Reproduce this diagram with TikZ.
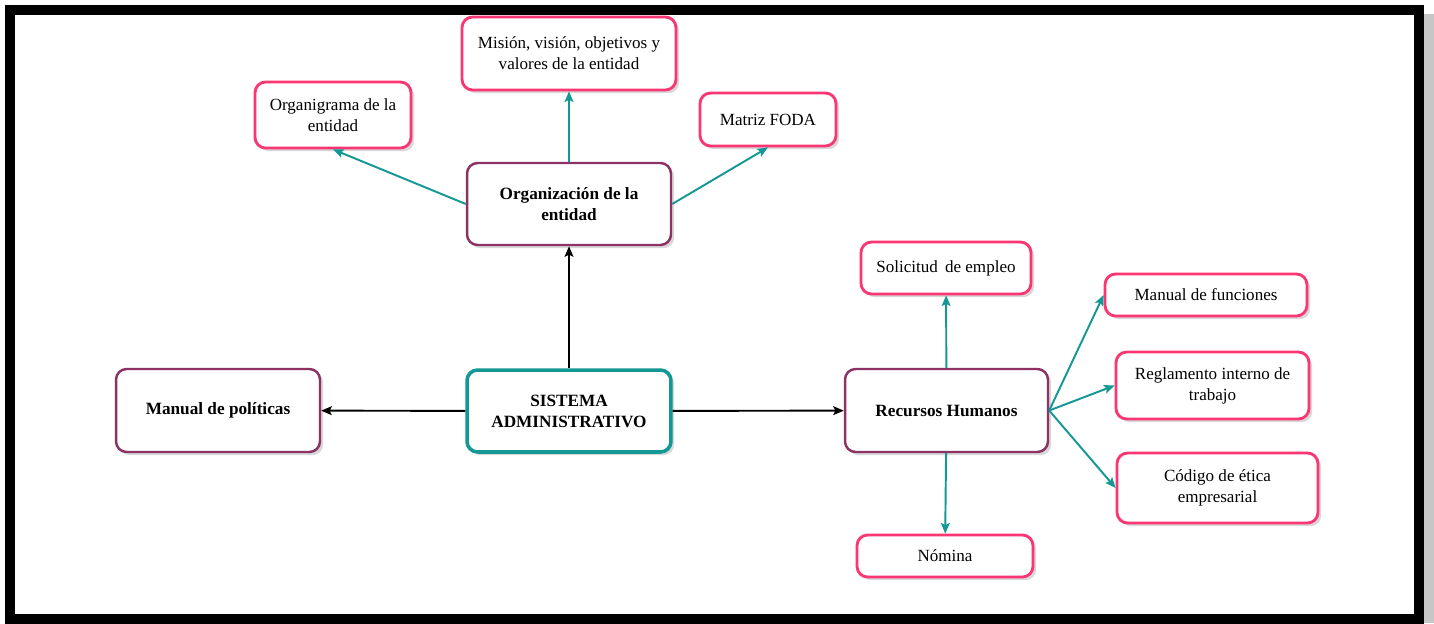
\documentclass[tikz,border=0pt]{standalone}
\usepackage{fontspec}
\setmainfont{Liberation Serif}
\usetikzlibrary{
  arrows.meta,
  shadows,
}

\definecolor{rosa}{RGB}{250,55,115}
\definecolor{morado}{RGB}{140,50,100}
\definecolor{verde}{RGB}{20,152,150}

\begin{document}
\begin{tikzpicture}[
    x=0.02cm, y=-0.02cm,
    caja/.style={draw=rosa, line width=1.6pt, rounded corners=6pt, fill=white,
        align=center, font=\fontsize{9.7}{12}\selectfont,
        drop shadow={shadow xshift=1.8pt, shadow yshift=-1.8pt, opacity=0.3}},
    tema/.style={caja, draw=morado, line width=1.4pt, font=\fontsize{9.8}{12}\selectfont\bfseries},
    centro/.style={tema, draw=verde, line width=2pt},
    flecha/.style={line width=1.1pt, -{Stealth[length=6pt, width=5pt, inset=1.2pt]}},
    rama/.style={flecha, verde},
  ]
  \useasboundingbox (0,0) rectangle (1434,623);
  % marco
  \fill[gray!45] (15,14) rectangle (1434,623);
  \fill[white] (15,14) rectangle (1414,614);
  \draw[line width=0.2cm] (10,9.5) rectangle (1419,618.5);

  \node[centro, minimum width=4.08cm, minimum height=1.64cm] (sistema) at (569,411) {SISTEMA\\ADMINISTRATIVO};

  \node[tema, minimum width=4.08cm, minimum height=1.64cm] (organizacion) at (569,204) {Organización de la\\entidad};
  \node[tema, minimum width=4.08cm, minimum height=1.66cm] (politicas) at (218,410.5) {Manual de políticas};
  \node[tema, minimum width=4.06cm, minimum height=1.66cm] (recursos) at (946.5,410.5) {Recursos Humanos};

  \node[caja, minimum width=4.28cm, minimum height=1.46cm] (mision) at (569,53.5) {Misión, visión, objetivos y\\valores de la entidad};
  \node[caja, minimum width=3.12cm, minimum height=1.32cm] (organigrama) at (333,115) {Organigrama de la\\entidad};
  \node[caja, minimum width=2.72cm, minimum height=1.06cm] (foda) at (768,119.5) {Matriz FODA};

  \node[caja, minimum width=3.4cm, minimum height=1.04cm] (solicitud) at (946,268) {Solicitud\, de empleo};
  \node[caja, minimum width=3.52cm, minimum height=0.84cm] (nomina) at (945,556) {Nómina};
  \node[caja, minimum width=4.04cm, minimum height=0.84cm] (funciones) at (1206,295) {Manual de funciones};
  \node[caja, minimum width=3.86cm, minimum height=1.34cm] (reglamento) at (1212.5,385.5) {Reglamento interno de\\trabajo};
  \node[caja, minimum width=4.02cm, minimum height=1.4cm] (codigo) at (1217.5,488) {Código de ética\\empresarial};

  \draw[flecha] (sistema) -- (organizacion);
  \draw[flecha] (sistema) -- (politicas);
  \draw[flecha] (sistema) -- (recursos);

  \draw[rama] (organizacion.west) -- (organigrama.south);
  \draw[rama] (organizacion) -- (mision);
  \draw[rama] (organizacion.east) -- (foda.south);

  \draw[rama] (recursos) -- (solicitud);
  \draw[rama] (recursos) -- (nomina);
  \foreach \n in {funciones, reglamento, codigo} {
      \draw[rama] (recursos.east) -- (\n.west);
    }

\end{tikzpicture}
\end{document}
